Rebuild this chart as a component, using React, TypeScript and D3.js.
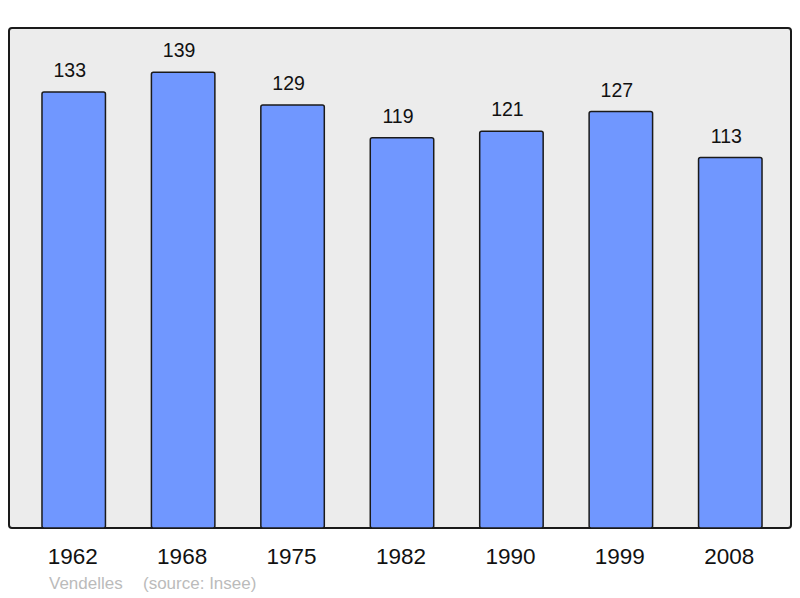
import React from 'react';
import * as d3 from 'd3';

const years = ['1962', '1968', '1975', '1982', '1990', '1999', '2008'];
const population = [133, 139, 129, 119, 121, 127, 113];
const commune = 'Vendelles';
const source = '(source: Insee)';

const width = 800;
const height = 598;
const panel = {left: 9, top: 28, right: 791, bottom: 528};

const App: React.FC = () => {
    const x = d3.scaleBand<string>()
        .domain(years)
        .range([19, 785])
        .paddingInner(0.42)
        .paddingOuter(0.21);

    const y = d3.scaleLinear()
        .domain([0, 152.5])
        .range([panel.bottom, panel.top]);

    return (
        <svg width={width} height={height}
             style={{position: 'absolute', left: 0, top: 0, fontFamily: '"Liberation Sans", Arial, sans-serif'}}>
            <rect x={0} y={0} width={width} height={height} fill="#fff"/>
            <rect x={panel.left} y={panel.top} width={panel.right - panel.left} height={panel.bottom - panel.top}
                  rx={3} fill="#ececec" stroke="#1a1a1a" strokeWidth={2}/>
            {population.map((v, i) => (
                <g key={years[i]}>
                    <rect x={x(years[i])!} y={y(v)} width={x.bandwidth()} height={panel.bottom - y(v)}
                          rx={2} fill="#7097ff" stroke="#1a1a1a" strokeWidth={1.5}/>
                    <text x={x(years[i])! + x.bandwidth() / 2 - 4} y={y(v) - 15} textAnchor="middle"
                          fontSize={19.5} fill="#111">{v}</text>
                </g>
            ))}
            {years.map(yr => (
                <text key={yr} x={x(yr)! + x.bandwidth() / 2 - 1} y={564} textAnchor="middle"
                      fontSize={22.5} fill="#111">{yr}</text>
            ))}
            <text x={49} y={589} fontSize={17} fill="#bbbbbb">{commune}</text>
            <text x={143} y={589} fontSize={17} fill="#bbbbbb">{source}</text>
        </svg>
    );
};

export default App;
